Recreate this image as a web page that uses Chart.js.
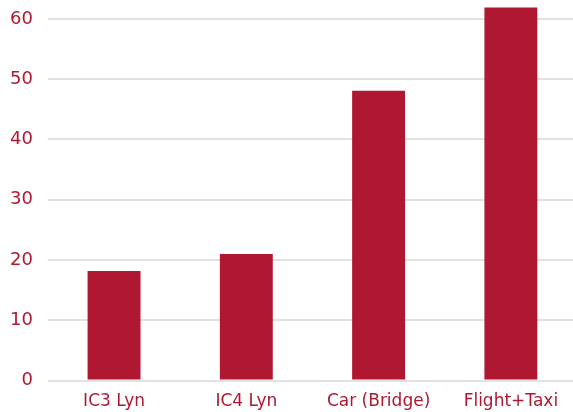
<!DOCTYPE html>
<html>
<head>
<meta charset="utf-8">
<script src="https://cdn.jsdelivr.net/npm/chart.js@4/dist/chart.umd.min.js"></script>
<style>
  html, body { margin: 0; padding: 0; background: #fff; }
  #marco { width: 573px; height: 412px; position: relative; overflow: hidden; }
  #wrap { position: absolute; left: -5px; top: -25px; width: 582px; height: 440px; }
</style>
</head>
<body>
<div id="marco"><div id="wrap"><canvas id="lienzo"></canvas></div></div>
<script>
// datos del grafico
const categorias = ["IC3 Lyn", "IC4 Lyn", "Car (Bridge)", "Flight+Taxi"];
const valores = [18.2, 21.0, 48.1, 61.9];
const ticksY = [0, 10, 20, 30, 40, 50, 60];

const rojo = '#b01731';

const contexto = document.getElementById("lienzo").getContext("2d");
const grafico = new Chart(contexto, {
    type: 'bar',
    data: {
        labels: categorias,
        datasets: [
            {
                label: 'Valor',
                data: valores,
                backgroundColor: rojo,
                borderWidth: 0,
                barPercentage: 0.4,
                categoryPercentage: 1.0
            }
        ]
    },
    options: {
        responsive: true,
        maintainAspectRatio: false,
        animation: false,
        layout: { padding: { left: 0, right: 0, top: 0, bottom: 0 } },
        plugins: {
            legend: { display: false },
            tooltip: { enabled: false }
        },
        scales: {
            x: {
                grid: { display: false },
                border: { display: false },
                ticks: {
                    color: rojo,
                    padding: 3,
                    maxRotation: 0,
                    font: { family: 'DejaVu Sans', size: 17 }
                }
            },
            y: {
                min: 0,
                max: 63,
                afterBuildTicks: axis => {
                    axis.ticks = ticksY.map(v => ({ value: v }));
                },
                grid: { color: '#e2e2e2', lineWidth: 2, drawTicks: false },
                border: { display: false },
                ticks: {
                    color: rojo,
                    padding: 15,
                    font: { family: 'DejaVu Sans', size: 18 }
                }
            }
        }
    }
});
</script>
</body>
</html>
